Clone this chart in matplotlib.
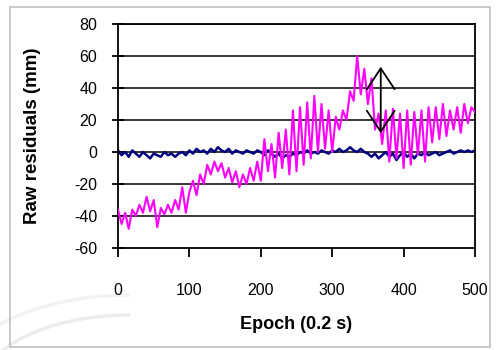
import numpy as np
from matplotlib import pyplot as plt
from matplotlib.patches import Rectangle, Arc

plt.rcParams['font.family'] = ['Liberation Sans', 'DejaVu Sans']
plt.rcParams['axes.unicode_minus'] = False

# epochs sampled every 5 (0.2 s units)
epoch = np.arange(0, 501, 5)

# raw residuals (mm)
magenta_res = [
    -36, -45, -38, -48, -36, -40, -33, -38, -28, -37, -30, -47, -35, -39, -33, -38, -30, -36, -22, -38,
    -25, -18, -27, -14, -20, -8, -14, -6, -12, -7, -16, -10, -19, -12, -22, -14, -20, -10, -18, -6,
    -18, 8, -12, 5, -16, 12, -10, 14, -14, 26, -12, 28, -8, 31, -4, 35, 0, 30, 2, 26,
    0, 22, 14, 26, 20, 38, 32, 60, 36, 52, 30, 46, 14, 24, 5, 26, -6, 27, -4, 24,
    -10, 26, -8, 25, -2, 26, -6, 28, 6, 28, 8, 30, 10, 26, 14, 28, 12, 30, 18, 28, 25,
]
navy_res = [
    1, -2, 0, -3, 1, -1, -3, 0, -2, -4, -1, -2, -3, 0, -2, -1, -3, -1, 0, -2,
    1, -1, 2, 0, 1, -1, 2, 0, 3, 1, 0, 2, -1, 1, 0, -1, 1, 0, -1, 1,
    0, -2, 1, -1, -3, -1, -4, -2, -3, -1, -2, 0, -1, 1, -1, 0, -1, 1, 0, -1,
    1, 0, 2, 0, 1, 3, 1, 0, 2, 0, -1, -3, -1, -4, -2, 0, -3, -1, -5, -2,
    0, -3, -1, -4, -1, -2, 0, -2, -1, 0, -2, -1, 0, 1, -1, 0, 1, 0, 1, 0, 1,
]
arrow_x = 368
arrow_span = (55, 10)

xticks = [0, 100, 200, 300, 400, 500]
yticks = [-60, -40, -20, 0, 20, 40, 60, 80]

fig = plt.figure(figsize=(4.96, 3.5), dpi=100)
fig.patches.append(Rectangle((10 / 496, 3 / 350), 480 / 496, 340 / 350, transform=fig.transFigure,
                             fill=False, edgecolor='#c0c0c0', linewidth=1.2))
# faint slide background swirls in the lower left
for w, h, c in [(300, 150, '#ececec'), (360, 190, '#f2f2f2')]:
    fig.patches.append(Arc((130 / 496, -40 / 350), w / 496, h / 350, theta1=90, theta2=180,
                           transform=fig.transFigure, color=c, linewidth=2.5, zorder=-1))

ax = fig.add_axes([118 / 496, 1 - 248 / 350, 357 / 496, 224 / 350])
ax.patch.set_alpha(0)
ax.set_xlim(0, 500)
ax.set_ylim(-60, 80)
for y in yticks[1:]:
    ax.axhline(y, color='black', linewidth=1.1, zorder=1)

ax.plot(epoch, navy_res, color='#000080', linewidth=1.8, zorder=2)
ax.plot(epoch, magenta_res, color='#ff00ff', linewidth=1.5, zorder=3)

ax.annotate('', xy=(arrow_x, arrow_span[0]), xytext=(arrow_x, arrow_span[1]),
            arrowprops=dict(arrowstyle='<->, head_length=0.75, head_width=0.5',
                            color='black', linewidth=1.3, mutation_scale=20), zorder=4)

ax.set_xticks(xticks)
ax.set_yticks(yticks)
ax.tick_params(axis='y', direction='inout', length=8, width=1.3, pad=11, labelsize=11.5)
ax.tick_params(axis='x', direction='out', length=6.5, width=1.3, pad=19, labelsize=11.5)
for sp in ax.spines.values():
    sp.set_linewidth(1.3)

ax.set_xlabel('Epoch (0.2 s)', fontsize=13, fontweight='bold')
ax.set_ylabel('Raw residuals (mm)', fontsize=13.5, fontweight='bold')
ax.xaxis.set_label_coords(0.5, -0.305)
ax.yaxis.set_label_coords(-0.215, 0.5)

plt.savefig('out.png', dpi=100)
